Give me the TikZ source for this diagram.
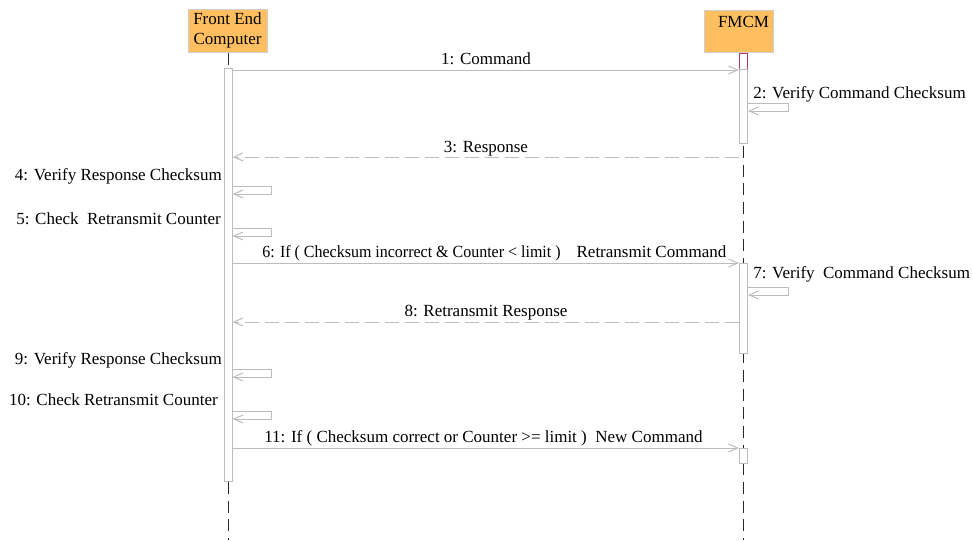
\documentclass[tikz,border=0pt]{standalone}
\usepackage{fontspec}
\setmainfont{Liberation Serif}
\usetikzlibrary{arrows.meta}
\definecolor{lifebox}{HTML}{FFBF60}
\definecolor{wire}{HTML}{BDBDBD}
\definecolor{boxline}{HTML}{CFCFCF}
\definecolor{focusred}{HTML}{B03A5E}
\begin{document}
\begin{tikzpicture}[x=0.75pt,y=-0.75pt,
  actor/.style={draw=boxline, fill=lifebox, line width=0.75pt, align=center,
    inner sep=0pt, font=\fontsize{12.75}{15}\selectfont},
  lifeline/.style={draw=black!85, line width=0.75pt, dash pattern=on 9pt off 5pt},
  bar/.style={draw=wire, fill=white, line width=0.75pt, inner sep=0pt,
    minimum width=6pt, anchor=north},
  msg/.style={draw=wire, line width=0.75pt, -{Straight Barb[length=7pt,width=6pt]}},
  reply/.style={msg, dash pattern=on 10.5pt off 4.5pt},
  lbl/.style={font=\fontsize{12.75}{15}\selectfont, inner sep=0pt},
]
\useasboundingbox (0,0) rectangle (973,540);

% participants
\node[actor, minimum width=59.25pt, minimum height=32.25pt] (fe) at (227.5,30.5)
  {Front End\\Computer};
\node[actor, minimum width=51.75pt, minimum height=31.5pt] (fm) at (738.5,31) {};
\node[lbl] (fmtext) at (743.5,22) {FMCM};

% lifelines
\draw[lifeline] (fe.south -| 228,0) -- (228,540);
\draw[lifeline] (fm.south -| 743.5,0) -- (743.5,540);

% activation bars
\node[bar, minimum height=309.75pt] (feact) at (228,68) {};
\node[bar, draw=focusred, minimum height=12pt] (fmred) at (743.5,53) {};
\node[bar, minimum height=55.5pt] (fmact1) at (743.5,69) {};
\node[bar, minimum height=67.5pt] (fmact2) at (743.5,263) {};
\node[bar, minimum height=11.25pt] (fmact3) at (743.5,448) {};

% 1: command
\draw[msg] (feact.east |- 0,70) -- (fmact1.west |- 0,70);
\node[lbl, anchor=base] (l1) at (486,64) {1: Command};

% 2: self check on FMCM
\draw[msg] (fmact1.east |- 0,103) -- (788,103) -- (788,111) -- (fmact1.east |- 0,111);
\node[lbl, anchor=base west] (l2) at (753,98) {2: Verify Command Checksum};

% 3: response
\draw[reply] (fmact1.west |- 0,157) -- (feact.east |- 0,157);
\node[lbl, anchor=base] (l3) at (486,152) {3: Response};

% 4 and 5: checks on the front end
\draw[msg] (feact.east |- 0,186) -- (271,186) -- (271,194) -- (feact.east |- 0,194);
\node[lbl, anchor=base east] (l4) at (222,180) {4: Verify Response Checksum};
\draw[msg] (feact.east |- 0,228) -- (271,228) -- (271,236) -- (feact.east |- 0,236);
\node[lbl, anchor=base east] (l5) at (221,224) {5: Check\ \ Retransmit Counter};

% 6: retransmit
\draw[msg] (feact.east |- 0,263) -- (fmact2.west |- 0,263);
\node[lbl, anchor=base west] (l6) at (262,257)
  {\scalebox{0.94}[1]{6: If ( Checksum incorrect \& Counter < limit )}\hspace{12pt}Retransmit Command};

% 7: self check on FMCM
\draw[msg] (fmact2.east |- 0,287) -- (788,287) -- (788,295) -- (fmact2.east |- 0,295);
\node[lbl, anchor=base west] (l7) at (753,278) {7: Verify\ \ Command Checksum};

% 8: retransmitted response
\draw[reply] (fmact2.west |- 0,322) -- (feact.east |- 0,322);
\node[lbl, anchor=base] (l8) at (486,316) {8: Retransmit Response};

% 9 and 10: checks on the front end
\draw[msg] (feact.east |- 0,369) -- (271,369) -- (271,377) -- (feact.east |- 0,377);
\node[lbl, anchor=base east] (l9) at (222,364) {9: Verify Response Checksum};
\draw[msg] (feact.east |- 0,411) -- (271,411) -- (271,419) -- (feact.east |- 0,419);
\node[lbl, anchor=base east] (l10) at (218,405) {10: Check Retransmit Counter};

% 11: new command
\draw[msg] (feact.east |- 0,448) -- (fmact3.west |- 0,448);
\node[lbl, anchor=base west] (l11) at (264,442)
  {11: If ( Checksum correct or Counter >= limit )\ \ New Command};
\end{tikzpicture}
\end{document}
